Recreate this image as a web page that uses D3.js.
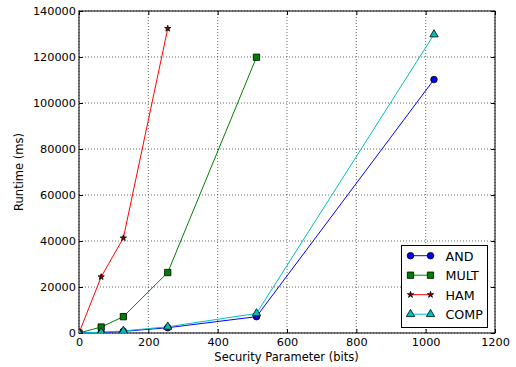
<!DOCTYPE html>
<html>
<head>
<meta charset="utf-8">
<script src="https://cdn.jsdelivr.net/npm/d3@7"></script>
<style>
  body { margin: 0; background: #fff; }
  text { font-family: "DejaVu Sans", sans-serif; }
</style>
</head>
<body>
<svg id="chart"></svg>
<script>
// Data
let bits = [0, 64, 128, 256, 512, 1024];
let andTimes = [0, 200, 700, 2300, 7100, 110200];
let multTimes = [0, 2600, 7100, 26300, 119900];
let hamTimes = [0, 24400, 41300, 132400];
let compTimes = [0, 300, 900, 2700, 8500, 129800];
let xTicks = [0, 200, 400, 600, 800, 1000, 1200];
let yTicks = [0, 20000, 40000, 60000, 80000, 100000, 120000, 140000];

let series = [
  { name: "AND", values: andTimes, color: "#0000ff", marker: "circle" },
  { name: "MULT", values: multTimes, color: "#008000", marker: "square" },
  { name: "HAM", values: hamTimes, color: "#ff0000", marker: "star" },
  { name: "COMP", values: compTimes, color: "#00bfbf", marker: "triangle" },
];

let width = 516;
let height = 367;
let plotLeft = 79;
let plotRight = 495;
let plotTop = 11;
let plotBottom = 333;

let svg = d3.select("#chart").attr("width", width).attr("height", height);

let xScale = d3.scaleLinear().domain([0, 1200]).range([plotLeft, plotRight]);
let yScale = d3.scaleLinear().domain([0, 140000]).range([plotBottom, plotTop]);

// grid
let grid = svg.append("g");
xTicks.forEach((t) => {
  grid.append("line")
    .attr("x1", xScale(t)).attr("x2", xScale(t))
    .attr("y1", plotTop).attr("y2", plotBottom)
    .attr("stroke", "#000").attr("stroke-width", 0.6)
    .attr("stroke-dasharray", "1,2");
});
yTicks.forEach((t) => {
  grid.append("line")
    .attr("x1", plotLeft).attr("x2", plotRight)
    .attr("y1", yScale(t)).attr("y2", yScale(t))
    .attr("stroke", "#000").attr("stroke-width", 0.6)
    .attr("stroke-dasharray", "1,2");
});

// axes (ticks pointing inward, on all four sides)
let axisStyle = (g) => {
  g.select(".domain").remove();
  g.selectAll("text").attr("font-size", 11.3).attr("fill", "#000")
    .style("font-family", "DejaVu Sans, sans-serif");
  g.selectAll("line").attr("stroke", "#000");
};
svg.append("g")
  .attr("transform", "translate(0," + plotBottom + ")")
  .call(d3.axisBottom(xScale).tickValues(xTicks).tickSizeInner(-4).tickSizeOuter(0).tickPadding(5).tickFormat(d3.format("d")))
  .call(axisStyle);
svg.append("g")
  .attr("transform", "translate(0," + plotTop + ")")
  .call(d3.axisTop(xScale).tickValues(xTicks).tickSizeInner(-4).tickSizeOuter(0).tickFormat(""))
  .call(axisStyle);
svg.append("g")
  .attr("transform", "translate(" + plotLeft + ",0)")
  .call(d3.axisLeft(yScale).tickValues(yTicks).tickSizeInner(-4).tickSizeOuter(0).tickPadding(3).tickFormat(d3.format("d")))
  .call(axisStyle);
svg.append("g")
  .attr("transform", "translate(" + plotRight + ",0)")
  .call(d3.axisRight(yScale).tickValues(yTicks).tickSizeInner(-4).tickSizeOuter(0).tickFormat(""))
  .call(axisStyle);

svg.append("rect")
  .attr("x", plotLeft).attr("y", plotTop)
  .attr("width", plotRight - plotLeft).attr("height", plotBottom - plotTop)
  .attr("fill", "none").attr("stroke", "#000").attr("stroke-width", 1);

// clip
svg.append("clipPath").attr("id", "clip")
  .append("rect").attr("x", plotLeft).attr("y", plotTop)
  .attr("width", plotRight - plotLeft).attr("height", plotBottom - plotTop);

let symbolFor = (m) => {
  if (m === "circle") return d3.symbol(d3.symbolCircle, 34);
  if (m === "square") return d3.symbol(d3.symbolSquare, 40);
  if (m === "star") return d3.symbol(d3.symbolStar, 12);
  return d3.symbol(d3.symbolTriangle, 30);
};
let markerFill = (s) => (s.marker === "star" ? "#8b0000" : s.color);

let line = d3.line()
  .x((d, i) => xScale(bits[i]))
  .y((d) => yScale(d));

let plot = svg.append("g").attr("clip-path", "url(#clip)");
series.forEach((s) => {
  plot.append("path")
    .datum(s.values)
    .attr("d", line)
    .attr("fill", "none")
    .attr("stroke", s.color)
    .attr("stroke-width", 1);
});
series.forEach((s) => {
  plot.selectAll(null)
    .data(s.values)
    .enter()
    .append("path")
    .attr("d", symbolFor(s.marker))
    .attr("transform", (d, i) => "translate(" + xScale(bits[i]) + "," + yScale(d) + ")")
    .attr("fill", markerFill(s))
    .attr("stroke", "#000")
    .attr("stroke-width", 0.8);
});

// axis labels
svg.append("text")
  .attr("x", (plotLeft + plotRight) / 2 - 0.5).attr("y", 361)
  .attr("text-anchor", "middle").attr("font-size", 11.5)
  .text("Security Parameter (bits)");
svg.append("text")
  .attr("transform", "translate(23," + (plotTop + plotBottom) / 2 + ") rotate(-90)")
  .attr("text-anchor", "middle").attr("font-size", 11.5)
  .text("Runtime (ms)");

// legend
let legend = svg.append("g");
legend.append("rect")
  .attr("x", 401.5).attr("y", 245.5)
  .attr("width", 86).attr("height", 82)
  .attr("fill", "#fff").attr("stroke", "#000").attr("stroke-width", 1);
series.forEach((s, i) => {
  let y = 255.7 + i * 19.5;
  legend.append("line")
    .attr("x1", 410.5).attr("x2", 430.5)
    .attr("y1", y).attr("y2", y)
    .attr("stroke", s.color).attr("stroke-width", 1);
  [410.5, 430.5].forEach((x) => {
    legend.append("path")
      .attr("d", symbolFor(s.marker))
      .attr("transform", "translate(" + x + "," + y + ")")
      .attr("fill", markerFill(s))
      .attr("stroke", "#000")
      .attr("stroke-width", 0.8);
  });
  legend.append("text")
    .attr("x", 445.5).attr("y", y + 5)
    .attr("font-size", 12.7)
    .text(s.name);
});
</script>
</body>
</html>
